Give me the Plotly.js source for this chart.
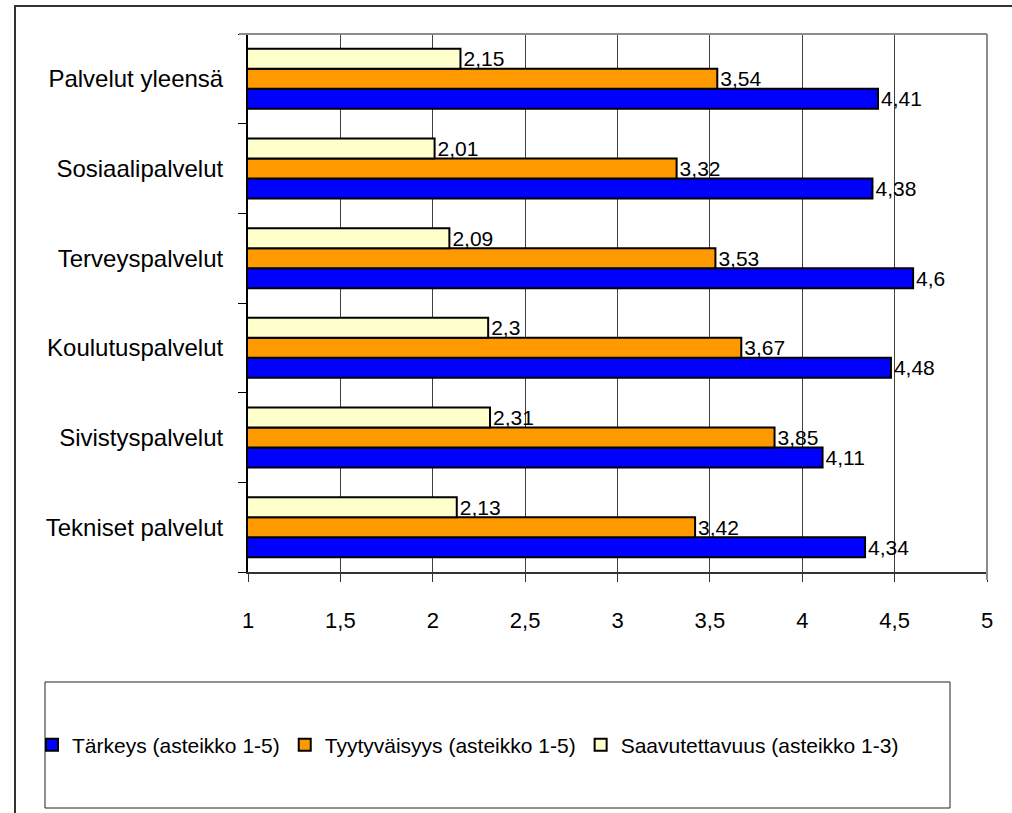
<!DOCTYPE html>
<html>
<head>
<meta charset="utf-8">
<script src="https://cdn.plot.ly/plotly-3.0.1.min.js"></script>
<style>html,body{margin:0;padding:0;background:#fff;}#chart{width:1012px;height:813px;}</style>
</head>
<body>
<div id="chart"></div>
<script>
// Categories, top to bottom as in the chart
const categories = ["Palvelut yleensä", "Sosiaalipalvelut", "Terveyspalvelut", "Koulutuspalvelut", "Sivistyspalvelut", "Tekniset palvelut"];
const tarkeys = [4.41, 4.38, 4.6, 4.48, 4.11, 4.34];
const tyytyvaisyys = [3.54, 3.32, 3.53, 3.67, 3.85, 3.42];
const saavutettavuus = [2.15, 2.01, 2.09, 2.3, 2.31, 2.13];
const seriesNames = ["Tärkeys (asteikko 1-5)", "Tyytyväisyys (asteikko 1-5)", "Saavutettavuus (asteikko 1-3)"];
const xTickVals = [1, 1.5, 2, 2.5, 3, 3.5, 4, 4.5, 5];
const xTickText = ["1", "1,5", "2", "2,5", "3", "3,5", "4", "4,5", "5"];

const FONT = '"Liberation Sans", Arial, sans-serif';
const fmt = v => String(v).replace('.', ',');

function mk(vals, name, color) {
  return {
    type: 'bar', orientation: 'h',
    y: categories, x: vals, name: name,
    marker: {color: color, line: {color: '#000', width: 2}},
    text: vals.map(fmt), textposition: 'outside', constraintext: 'none',
    textfont: {family: FONT, size: 21, color: '#000'},
    cliponaxis: false, hoverinfo: 'x+y'
  };
}

const data = [
  mk(tarkeys, seriesNames[0], '#0000FF'),
  mk(tyytyvaisyys, seriesNames[1], '#FF9900'),
  mk(saavutettavuus, seriesNames[2], '#FFFFCC')
];

const L = 248, R = 987, T = 34, B = 572;
const px = x => (x - L) / (R - L);
const py = y => (B - y) / (B - T);

const layout = {
  width: 1012, height: 813,
  margin: {l: L, r: 1012 - R, t: T, b: 813 - B, pad: 0},
  paper_bgcolor: '#fff', plot_bgcolor: '#fff',
  barmode: 'group', bargap: 0.33, bargroupgap: 0,
  showlegend: true,
  font: {family: FONT, color: '#000'},
  xaxis: {
    range: [1, 5], tickvals: xTickVals, ticktext: xTickText,
    showgrid: true, gridcolor: '#404040', gridwidth: 1,
    zeroline: false, showline: true, linecolor: '#333', linewidth: 2,
    ticks: 'outside', ticklen: 8, tickcolor: '#333', tickwidth: 1,
    ticklabelstandoff: 20,
    tickfont: {family: FONT, size: 22, color: '#000'}
  },
  yaxis: {
    type: 'category', categoryorder: 'array', categoryarray: categories.slice().reverse(),
    showgrid: false, zeroline: false, showline: true, linecolor: '#000', linewidth: 2,
    ticks: 'outside', tickson: 'boundaries', ticklen: 8, tickcolor: '#000', tickwidth: 1,
    ticklabelstandoff: 18,
    tickfont: {family: FONT, size: 24, color: '#000'}
  },
  legend: {
    orientation: 'h', x: px(32), xanchor: 'left', y: py(745), yanchor: 'middle',
    font: {family: FONT, size: 21, color: '#000'},
    bgcolor: 'rgba(0,0,0,0)', borderwidth: 0, traceorder: 'normal', itemwidth: 30
  },
  shapes: [
    // plot area top & right border (gray)
    {type: 'line', xref: 'paper', yref: 'paper', x0: px(239), x1: 1, y0: 1, y1: 1, line: {color: '#8c8c8c', width: 2}},
    {type: 'line', xref: 'paper', yref: 'paper', x0: 1, x1: 1, y0: py(580), y1: 1, line: {color: '#8c8c8c', width: 2}},
    // legend box
    {type: 'rect', xref: 'paper', yref: 'paper', x0: px(45), x1: px(950), y0: py(808), y1: py(682), line: {color: '#222', width: 1}},
    // outer frame
    {type: 'rect', xref: 'paper', yref: 'paper', x0: px(15), x1: px(1030), y0: py(830), y1: py(6), line: {color: '#333', width: 2}}
  ]
};

Plotly.newPlot('chart', data, layout, {displayModeBar: false, staticPlot: true});
</script>
</body>
</html>
